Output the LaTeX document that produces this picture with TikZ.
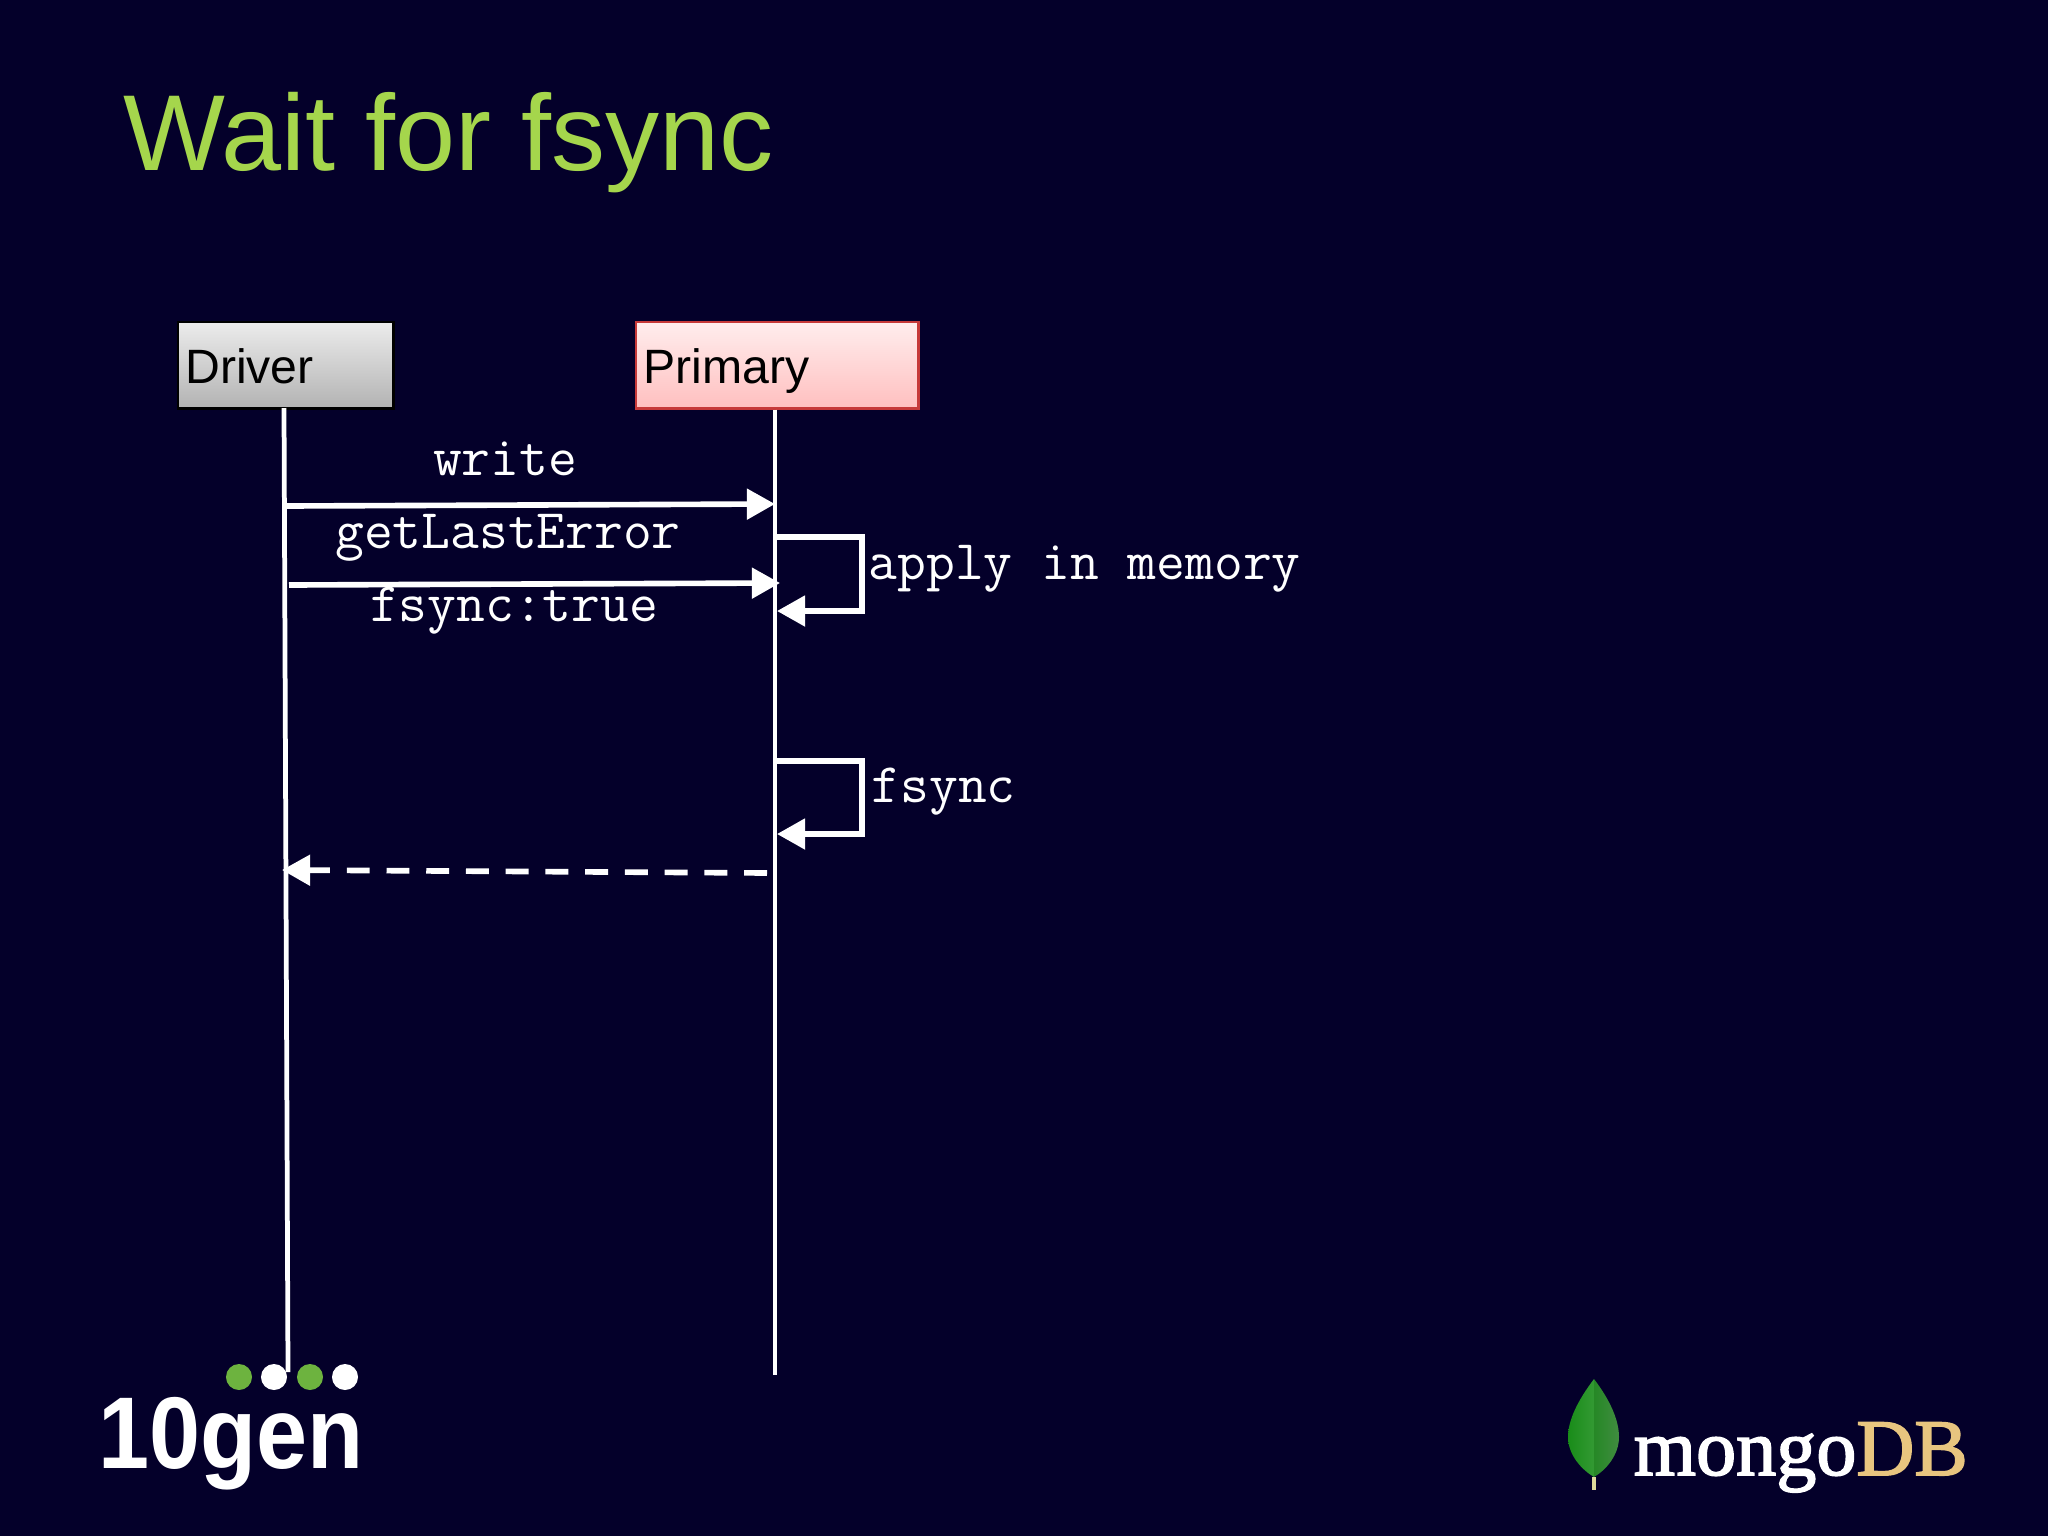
\documentclass[tikz,border=0pt]{standalone}
\usepackage{graphicx}
\usepackage{fontspec}
\setmainfont{Liberation Sans}
\newfontfamily\mongofont[FakeBold=2]{Liberation Serif}
\usetikzlibrary{arrows.meta}
\definecolor{slidebg}{HTML}{04002A}
\definecolor{titlegreen}{HTML}{A5D64C}
\definecolor{logogreen}{HTML}{6DB33F}
\definecolor{dbgold}{HTML}{E8C57F}
\tikzset{
  actorbox/.style={draw,line width=.7pt,rectangle,anchor=north west,align=left,text=black,
    inner xsep=.07cm,inner ysep=0pt,text height=.40cm,text depth=.03cm,font=\fontsize{13.7}{16}\selectfont},
  msglabel/.style={text=white,inner sep=0pt,anchor=base,font=\ttfamily\fontsize{15.9}{18}\selectfont},
  sidelabel/.style={msglabel,anchor=base west},
  lifeline/.style={draw=white,line width=1.35pt},
  msgarrow/.style={draw=white,line width=1.6pt,-{Triangle[length=8pt,width=8.5pt]}},
  logodot/.style={circle,inner sep=0pt,minimum size=.26cm}
}
\begin{document}
\begin{tikzpicture}[x=.01cm,y=-.01cm]
\fill [slidebg] (0,0) rectangle (2048,1536);
\useasboundingbox (0,0) rectangle (2048,1536);
\node [text=titlegreen,anchor=base west,inner sep=0pt,font=\fontsize{30.7}{36}\selectfont] (title) at (123,170) {Wait for fsync};

\node [actorbox,top color=gray!15,bottom color=gray!60,text width=2.01cm,minimum height=.86cm] (driver) at (177,321) {Driver};
\node [actorbox,draw=red!55!gray,top color=red!7,bottom color=red!25,text width=2.68cm,minimum height=.86cm] (primary) at (635,321) {Primary};

\coordinate (driverstart) at (284,408);
\coordinate (driverend) at (288,1372);
\coordinate (primaryend) at (775,1375);
\node [logodot,fill=logogreen] (dotA) at (239,1377) {};
\node [logodot,fill=white] (dotB) at (274,1377) {};
\node [logodot,fill=logogreen] (dotC) at (310,1377) {};
\node [logodot,fill=white] (dotD) at (345,1377) {};
\draw [lifeline] (driverstart) -- (driverend);
\draw [lifeline] (primary.south -| primaryend) -- (primaryend);

\coordinate (writeA) at (286,506);
\coordinate (writeB) at (775,504);
\coordinate (errorA) at (289,585);
\coordinate (errorB) at (780,583);
\coordinate (applyA) at (777,537);
\coordinate (applyB) at (862,537);
\coordinate (applyC) at (862,611);
\coordinate (applyD) at (777,611);
\coordinate (syncA) at (777,761);
\coordinate (syncB) at (862,761);
\coordinate (syncC) at (862,834);
\coordinate (syncD) at (777,834);
\coordinate (ackA) at (767,873);
\coordinate (ackB) at (282,870);
\draw [msgarrow] (writeA) -- (writeB);
\draw [msgarrow] (errorA) -- (errorB);
\draw [msgarrow] (applyA) -- (applyB) -- (applyC) -- (applyD);
\draw [msgarrow] (syncA) -- (syncB) -- (syncC) -- (syncD);
\draw [msgarrow,dash pattern=on 6.5pt off 4.8pt] (ackA) -- (ackB);

\node [msglabel] (write) at (505,475) {write};
\node [msglabel] (lasterror) at (508,548) {getLastError};
\node [msglabel] (fsynctrue) at (514,621) {fsync:true};
\node [sidelabel] (memory) at (868,579) {apply in memory};
\node [sidelabel] (fsync) at (871,802) {fsync};

\node [text=white,anchor=base west,inner sep=0pt,font=\bfseries\fontsize{29}{34}\selectfont] (tengen) at (98,1468) {\scalebox{.9}[1]{10gen}};

\shade [left color=green!50!black!90,right color=green!50!black!80] (1594,1379) .. controls (1578,1400) and (1568,1420) .. (1568,1437) .. controls (1568,1455) and (1582,1470) .. (1594,1477) -- cycle;
\shade [left color=green!45!black!85,right color=green!40!black!75] (1594,1379) .. controls (1610,1400) and (1619,1420) .. (1619,1437) .. controls (1619,1455) and (1606,1470) .. (1594,1477) -- cycle;
\draw [draw=gray!50!yellow!60,line width=1pt] (1594,1477) -- (1594,1490);
\node [text=white,anchor=base west,inner sep=0pt,font=\mongofont\fontsize{22.8}{26}\selectfont] (mongo) at (1633,1475) {mongo\textcolor{dbgold}{DB}};
\end{tikzpicture}
\end{document}
